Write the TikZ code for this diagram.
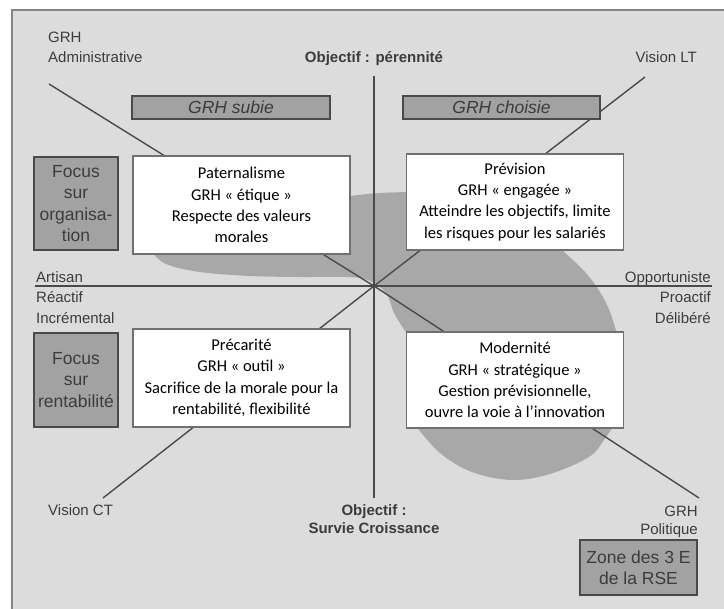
\documentclass[tikz,border=0pt]{standalone}
\usepackage{fontspec}
\setmainfont{Liberation Sans}
\newfontfamily\boxfont{Carlito}

\definecolor{panel}{HTML}{DCDCDC}
\definecolor{zone}{HTML}{A8A8A8}
\definecolor{shade}{HTML}{A2A2A2}
\definecolor{ink}{HTML}{3C3C3C}
\definecolor{rule}{HTML}{4A4A4A}
\definecolor{wedge}{HTML}{707070}
\definecolor{framec}{HTML}{858585}

\begin{document}
\begin{tikzpicture}[x=1pt,y=-1pt,
  lbl/.style={font=\fontsize{15}{19}\selectfont, text=ink, inner sep=0pt},
  lblb/.style={lbl, font=\fontsize{15}{18}\selectfont\bfseries, align=center},
  graybox/.style={draw=rule, line width=1.5pt, fill=shade, text=ink, inner sep=0pt,
    font=\fontsize{17.5}{21.5}\selectfont, align=center},
  whitebox/.style={draw=wedge, line width=1.3pt, fill=white, text=black, inner sep=0pt,
    minimum width=217, font=\boxfont\fontsize{16.5}{21.3}\selectfont, align=center},
  axis/.style={draw=rule, line width=1.8pt},
  diag/.style={draw=rule, line width=1.4pt},
  ]
\useasboundingbox (0,0) rectangle (724,609);

% panel and its frame
\fill[panel] (12,10) rectangle (724,609);
\draw[framec, line width=2.5pt] (12,609) -- (12,10) -- (724,10);

% shaded zone of the 3 E
\fill[zone]
  plot[smooth, tension=0.6] coordinates {(152,252) (166,264) (200,272) (250,276) (300,277) (345,277) (368,280) (386,293) (395,315) (410,338)}
  -- (410,420)
  -- plot[smooth, tension=0.6] coordinates {(416,426) (440,453) (472,472) (512,480) (550,474) (589,457) (604,440) (614,425)}
  -- (614,340)
  -- plot[smooth, tension=0.6] coordinates {(617,334) (610,312) (600,292) (585,272) (562,250) (550,240)}
  -- (412,200)
  -- plot[smooth, tension=0.6] coordinates {(410,192) (380,193) (350,196) (340,198)}
  -- (150,248) -- cycle;

% axes
\coordinate (axL) at (35,286);
\coordinate (axR) at (712,286);
\coordinate (axT) at (374,76);
\coordinate (axB) at (374,498);
\coordinate (c) at (374,286);
\draw[axis] (axL) -- (axR);
\draw[axis] (axT) -- (axB);

% diagonals
\coordinate (adm) at (49,84);
\coordinate (pol) at (699,498);
\coordinate (vlt) at (645,77);
\coordinate (vct) at (103,498);
\draw[diag] (adm) -- (c) -- (pol);
\draw[diag] (vct) -- (c) -- (vlt);

% gray boxes
\node[graybox, minimum width=198, minimum height=23, font=\fontsize{17.5}{21}\selectfont\itshape] (subie) at (231,107.5) {GRH subie};
\node[graybox, minimum width=197, minimum height=23, font=\fontsize{17.5}{21}\selectfont\itshape] (choisie) at (501.5,107.5) {GRH choisie};
\node[graybox, minimum width=84, minimum height=93] (orga) at (76,203.5) {Focus\\sur\\organisa-\\tion};
\node[graybox, minimum width=84, minimum height=94] (renta) at (76,380) {Focus\\sur\\rentabilité};
\node[graybox, minimum width=117, minimum height=55] (rse) at (638.5,567.5) {Zone des 3 E\\de la RSE};

% quadrant boxes
\node[whitebox, minimum height=98] (pat) at (241.5,205) {Paternalisme\\GRH « étique »\\Respecte des valeurs\\morales};
\node[whitebox, minimum height=96] (prev) at (515,202) {Prévision\\GRH « engagée »\\Atteindre les objectifs, limite\\les risques pour les salariés};
\node[whitebox, minimum height=98] (prec) at (241.5,378) {Précarité\\GRH « outil »\\Sacrifice de la morale pour la\\rentabilité, flexibilité};
\node[whitebox, minimum height=96] (mod) at (515,380) {Modernité\\GRH « stratégique »\\Gestion prévisionnelle,\\ouvre la voie à l’innovation};

% axis labels
\node[lbl, anchor=base west] (grh1) at (48,43) {GRH};
\node[lbl, anchor=base west] (adml) at (48,62.5) {Administrative};
\node[lblb, anchor=base] (pere) at (374,63) {Objectif : pérennité};
\node[lbl, anchor=base east] (vltl) at (697,62.5) {Vision LT};
\node[lbl, anchor=base west] (arti) at (36,283) {Artisan};
\node[lbl, anchor=base west] (reac) at (36,302.5) {Réactif};
\node[lbl, anchor=base west] (incr) at (36,323.5) {Incrémental};
\node[lbl, anchor=base east] (oppo) at (711,283) {Opportuniste};
\node[lbl, anchor=base east] (proa) at (711,302.5) {Proactif};
\node[lbl, anchor=base east] (deli) at (711,323.5) {Délibéré};
\node[lbl, anchor=base west] (vctl) at (48,515.5) {Vision CT};
\node[lblb, anchor=base] (obj2) at (374,515.5) {Objectif :};
\node[lblb, anchor=base] (surv) at (374,533.5) {Survie Croissance};
\node[lbl, anchor=base east] (grh2) at (698,516.5) {GRH};
\node[lbl, anchor=base east] (poli) at (698,534.5) {Politique};
\end{tikzpicture}
\end{document}
